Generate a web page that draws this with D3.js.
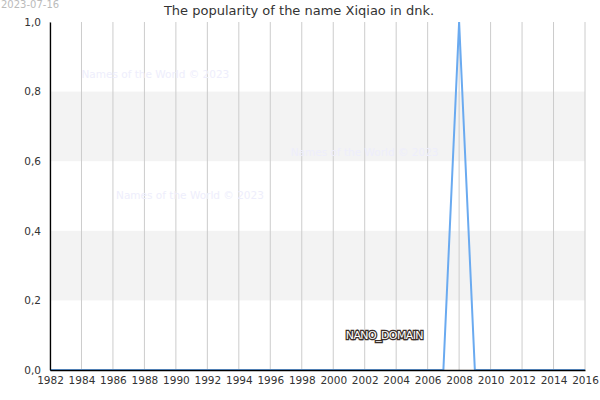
<!DOCTYPE html>
<html><head><meta charset="utf-8">
<script src="https://cdn.jsdelivr.net/npm/d3@7"></script>
<style>body{margin:0;background:#fff;font-family:"DejaVu Sans",sans-serif}</style>
</head><body><div id="chart"></div>
<script>
// chart data
const years = d3.range(1982, 2017);
const popularity = years.map(y => y === 2008 ? 1 : 0);
const xTicks = d3.range(1982, 2017, 2);
const yTicks = [0, 0.2, 0.4, 0.6, 0.8, 1.0];
const bands = [[0.2, 0.4], [0.6, 0.8]];
const watermarks = [[1984, 0.84], [1997.3, 0.615], [1986.2, 0.49]];

const width = 600, height = 400;
const margin = {top: 22, right: 15, bottom: 30, left: 50};

const svg = d3.select('#chart').append('svg')
    .attr('width', width).attr('height', height)
    .style('font-family', '"DejaVu Sans", sans-serif');

const x = d3.scaleLinear().domain([1982, 2016]).range([margin.left, width - margin.right]);
const y = d3.scaleLinear().domain([0, 1]).range([height - margin.bottom, margin.top]);

// grey bands
svg.selectAll('rect.band').data(bands).join('rect')
    .attr('x', x(1982)).attr('width', x(2016) - x(1982))
    .attr('y', d => y(d[1])).attr('height', d => y(d[0]) - y(d[1]))
    .attr('fill', '#f3f3f3');

// vertical grid
svg.selectAll('line.grid').data(xTicks).join('line')
    .attr('x1', d => x(d)).attr('x2', d => x(d))
    .attr('y1', y(0)).attr('y2', y(1))
    .attr('stroke', '#cccccc').attr('stroke-width', 1);

// watermarks
svg.selectAll('text.wm').data(watermarks).join('text')
    .attr('x', d => x(d[0])).attr('y', d => y(d[1]))
    .attr('font-size', 10.5).attr('fill', '#eeeefc')
    .text('Names of the World © 2023');

// line
const line = d3.line().x((d, i) => x(years[i])).y(d => y(d));
svg.append('path').datum(popularity)
    .attr('d', line).attr('fill', 'none')
    .attr('stroke', '#6aaaf0').attr('stroke-width', 2);

// axes
const xAxis = svg.append('g').attr('transform', `translate(0,${y(0)})`)
    .call(d3.axisBottom(x).tickValues(xTicks).tickFormat(d3.format('d')).tickSize(0).tickPadding(7));
const yAxis = svg.append('g').attr('transform', `translate(${x(1982)},0)`)
    .call(d3.axisLeft(y).tickValues(yTicks).tickFormat(d => d.toFixed(1).replace('.', ',')).tickSize(0).tickPadding(9));
[xAxis, yAxis].forEach(g => {
    g.select('.domain').attr('stroke', '#000').attr('stroke-width', 1.3);
    g.selectAll('text').attr('font-size', 10.5).attr('fill', '#333')
        .style('font-family', '"DejaVu Sans", sans-serif');
});

// title and date
svg.append('text').attr('x', 299).attr('y', 15).attr('text-anchor', 'middle')
    .attr('font-size', 13).attr('fill', '#333')
    .text('The popularity of the name Xiqiao in dnk.');
svg.append('text').attr('x', 1).attr('y', 8)
    .attr('font-size', 10).attr('fill', '#bbb').text('2023-07-16');

// NANO_DOMAIN label
svg.append('text').attr('x', x(2000.8)).attr('y', y(0.1)).attr('dy', '0.35em')
    .attr('font-size', 11).attr('fill', '#fff')
    .attr('stroke', '#3a2e28').attr('stroke-width', 2.5).attr('paint-order', 'stroke')
    .attr('letter-spacing', -0.6).text('NANO_DOMAIN');
</script></body></html>
